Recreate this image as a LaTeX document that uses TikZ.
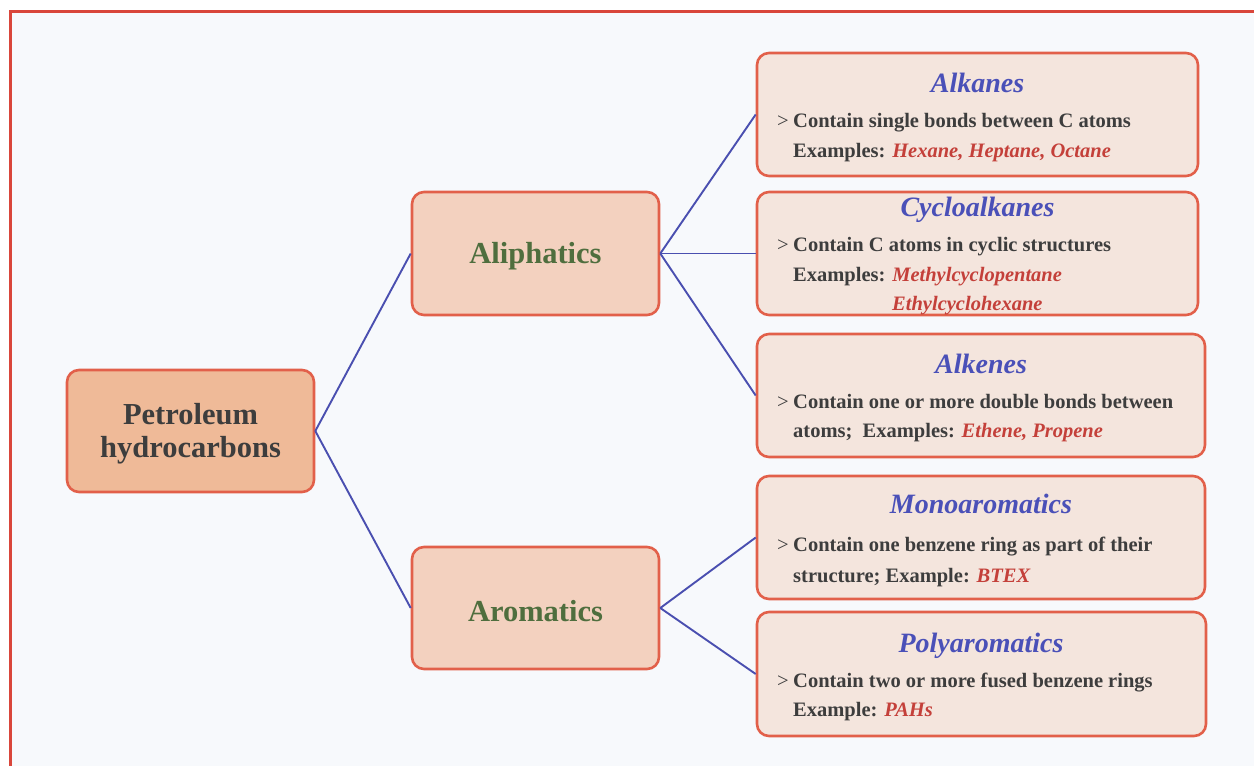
\documentclass[tikz,border=0pt]{standalone}
\usepackage{fontspec}
\setmainfont{Liberation Serif}
\definecolor{bgc}{HTML}{F7F9FC}
\definecolor{framec}{HTML}{D9463B}
\definecolor{boxline}{HTML}{E2604A}
\definecolor{rootfill}{HTML}{EFBA98}
\definecolor{midfill}{HTML}{F3D1BF}
\definecolor{leaffill}{HTML}{F4E5DD}
\definecolor{connc}{HTML}{4A4FB0}
\definecolor{ttlc}{HTML}{4A50B8}
\definecolor{bodyc}{HTML}{3D3D3D}
\definecolor{exc}{HTML}{C4403A}
\definecolor{greenc}{HTML}{4F6E3E}
\newcommand{\ex}[1]{\textcolor{exc}{\itshape #1}}
\newcommand{\gtmark}{\makebox[16pt][l]{\mdseries >}}
\tikzset{
  boxbase/.style={draw=boxline, line width=2.6pt, rounded corners=12pt, inner sep=0pt},
  rootbox/.style={boxbase, fill=rootfill},
  midbox/.style={boxbase, fill=midfill},
  leafbox/.style={boxbase, fill=leaffill},
  roottxt/.style={inner sep=0pt, text=bodyc, align=center, yshift=-3pt,
    font=\fontsize{30.5}{33}\selectfont\bfseries},
  midtxt/.style={inner sep=0pt, text=greenc, yshift=-3pt,
    font=\fontsize{30.5}{33}\selectfont\bfseries},
  ttl/.style={anchor=base, inner sep=0pt, text=ttlc,
    font=\fontsize{28}{30}\selectfont\bfseries\itshape},
  bodytxt/.style={anchor=base west, inner sep=0pt, text=bodyc,
    font=\fontsize{20.5}{30}\selectfont\bfseries},
  conn/.style={draw=connc, line width=1.9pt}
}
\begin{document}
\begin{tikzpicture}[x=1pt,y=-1pt]
\useasboundingbox (0,0) rectangle (1254,766);
\fill[white] (0,0) rectangle (1254,766);
\fill[bgc] (10,11) rectangle (1254,766);
\draw[framec, line width=3pt] (10,766) -- (10,11) -- (1254,11);

% main boxes
\node[rootbox, minimum width=247pt, minimum height=122pt] (root) at (190.5,431) {};
\node[midbox, minimum width=247pt, minimum height=123pt] (ali) at (535.5,253.5) {};
\node[midbox, minimum width=247pt, minimum height=122pt] (aro) at (535.5,608) {};
\node[roottxt] (rootT) at (root.center) {Petroleum\\hydrocarbons};
\node[midtxt] (aliT) at (ali.center) {Aliphatics};
\node[midtxt] (aroT) at (aro.center) {Aromatics};

% leaf boxes
\node[leafbox, minimum width=441pt, minimum height=123pt] (alk) at (977.5,114.5) {};
\node[leafbox, minimum width=441pt, minimum height=123pt] (cyc) at (977.5,253.5) {};
\node[leafbox, minimum width=448pt, minimum height=123pt] (alke) at (981,395.5) {};
\node[leafbox, minimum width=448pt, minimum height=123pt] (mono) at (981,537.5) {};
\node[leafbox, minimum width=449pt, minimum height=124pt] (poly) at (981.5,674) {};

% connectors
\draw[conn] (root.east) -- (ali.west);
\draw[conn] (root.east) -- (aro.west);
\draw[conn] (ali.east) -- (alk.west);
\draw[conn] (ali.east) -- (cyc.west);
\draw[conn] (ali.east) -- (alke.west);
\draw[conn] (aro.east) -- (mono.west);
\draw[conn] (aro.east) -- (poly.west);

% Alkanes text
\node[ttl] (alkT) at (977.5,92) {Alkanes};
\node[bodytxt] (alkL1) at (777,127) {\gtmark Contain single bonds between C atoms};
\node[bodytxt] (alkL2) at (793,157) {Examples: \ex{Hexane, Heptane, Octane}};

% Cycloalkanes text
\node[ttl] (cycT) at (977.5,216) {Cycloalkanes};
\node[bodytxt] (cycL1) at (777,251) {\gtmark Contain C atoms in cyclic structures};
\node[bodytxt] (cycL2) at (793,281) {Examples: \ex{Methylcyclopentane}};
\node[bodytxt] (cycL3) at (892,310) {\ex{Ethylcyclohexane}};

% Alkenes text
\node[ttl] (alkeT) at (981,373) {Alkenes};
\node[bodytxt] (alkeL1) at (777,408) {\gtmark Contain one or more double bonds between};
\node[bodytxt] (alkeL2) at (793,437) {atoms;\ \ Examples: \ex{Ethene, Propene}};

% Monoaromatics text
\node[ttl] (monoT) at (981,513) {Monoaromatics};
\node[bodytxt] (monoL1) at (777,551) {\gtmark Contain one benzene ring as part of their};
\node[bodytxt] (monoL2) at (793,582) {structure; Example: \ex{BTEX}};

% Polyaromatics text
\node[ttl] (polyT) at (981,652) {Polyaromatics};
\node[bodytxt] (polyL1) at (777,687) {\gtmark Contain two or more fused benzene rings};
\node[bodytxt] (polyL2) at (793,716) {Example: \ex{PAHs}};
\end{tikzpicture}
\end{document}
